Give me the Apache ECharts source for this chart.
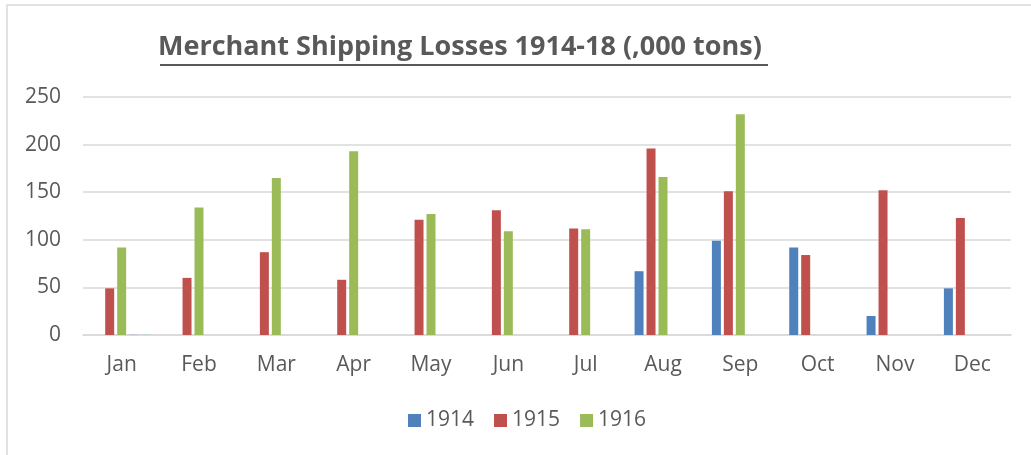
<!DOCTYPE html>
<html>
<head>
<meta charset="utf-8">
<script src="https://cdn.jsdelivr.net/npm/echarts@6/dist/echarts.min.js"></script>
<style>html,body{margin:0;padding:0;background:#fff;}#c{width:1031px;height:455px;}</style>
</head>
<body>
<div id="c"></div>
<script>
const months = ['Jan','Feb','Mar','Apr','May','Jun','Jul','Aug','Sep','Oct','Nov','Dec'];
const s1914 = [null,null,null,null,null,null,null,67,99,92,20,49];
const s1915 = [49,60,87,58,121,131,112,196,151,84,152,123];
const s1916 = [92,134,165,193,127,109,111,166,232,null,null,null];
const s1917 = [0.6,null,null,null,null,null,null,null,null,null,null,null];
const s1918 = [0.6,null,null,null,null,null,null,null,null,null,null,null];
const yTicks = [0,50,100,150,200,250];
const titleText = 'Merchant Shipping Losses 1914-18 (,000 tons)';

const chart = echarts.init(document.getElementById('c'));
const font = 'Open Sans';
function bar(name, data, color) {
  return {name, type:'bar', data, barWidth:9, barGap:'33%', itemStyle:{color}};
}
chart.setOption({
  animation:false,
  title:{text:titleText, left:158, top:34, padding:0,
    textStyle:{fontFamily:font, fontWeight:'bold', fontSize:27, color:'#595959'}},
  graphic:[
    {type:'rect', shape:{x:7,y:5,width:1200,height:600}, style:{fill:'none', stroke:'#d9d9d9', lineWidth:1.5}, silent:true},
    {type:'line', shape:{x1:160,y1:65,x2:768,y2:65}, style:{stroke:'#595959', lineWidth:2}, silent:true}
  ],
  legend:{data:['1914','1915','1916'], left:408, top:410, padding:0, itemWidth:13, itemHeight:13, itemGap:20,
    icon:'rect', textStyle:{fontFamily:font, fontSize:21, color:'#595959'}},
  grid:{left:83, right:20, top:97, bottom:120},
  xAxis:{type:'category', data:months,
    axisLine:{lineStyle:{color:'#d9d9d9', width:1.5}}, axisTick:{show:false},
    axisLabel:{fontFamily:font, fontSize:21, color:'#595959', margin:20}},
  yAxis:{type:'value', min:0, max:250, interval:50,
    axisLine:{show:false}, axisTick:{show:false},
    splitLine:{lineStyle:{color:'#d9d9d9', width:1.5}},
    axisLabel:{fontFamily:font, fontSize:21, color:'#595959', margin:22,
      formatter:v => yTicks.includes(v) ? String(v) : ''}},
  series:[
    bar('1914', s1914, '#4F81BD'),
    bar('1915', s1915, '#C0504D'),
    bar('1916', s1916, '#9BBB59'),
    bar('1917', s1917, '#b8b0cc'),
    bar('1918', s1918, '#b0d4de')
  ]
});
</script>
</body>
</html>
